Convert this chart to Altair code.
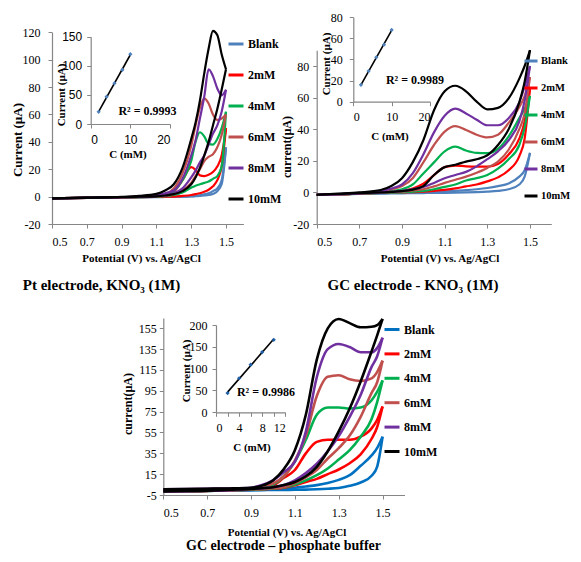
import altair as alt
import pandas as pd

SERIES = ["Blank", "2mM", "4mM", "6mM", "8mM", "10mM"]
COLORS_KNO3 = ["#4F81BD", "#FF0000", "#00B050", "#C0504D", "#7030A0", "#000000"]
COLORS_PB = ["#0070C0", "#FF0000", "#00B050", "#C0504D", "#7030A0", "#000000"]
X_TICKS = [0.5, 0.7, 0.9, 1.1, 1.3, 1.5]

# ---------- Panel 1 : Pt electrode, KNO3 (1M) ----------
PT_E = [0.5, 0.7, 0.9, 1.0, 1.1, 1.15, 1.2, 1.25, 1.3, 1.325, 1.35, 1.375, 1.4, 1.425, 1.45, 1.475, 1.5]
PT_FWD = {
    "Blank": [-1.5, -1.0, -0.6, -0.5, -0.4, -0.3, -0.2, 0, 0.3, 0.6, 1.0, 1.6, 2.5, 4, 6, 12, 36],
    "2mM":   [-1.5, -1.0, -0.6, -0.4, 0, 0.8, 3.5, 12, 21.5, 19.5, 15.5, 15, 16, 18, 22, 30, 50],
    "4mM":   [-1.5, -1.0, -0.6, -0.4, 0.2, 1.2, 4, 12, 26, 40, 47, 44, 38.5, 38, 42, 50, 62],
    "6mM":   [-1.5, -1.0, -0.5, -0.2, 0.5, 1.8, 6, 17, 37, 52, 65, 71.5, 68, 60, 56, 57, 60],
    "8mM":   [-1.5, -0.9, -0.4, 0, 1, 2.5, 4.5, 13, 30, 41, 57, 73, 93, 88, 79, 74, 78],
    "10mM":  [-1.5, -0.8, -0.2, 0.5, 2, 4.5, 9, 21, 42, 54, 70, 90, 108, 121, 118, 104, 93],
}
PT_REV = {
    "Blank": [-1.2, -0.8, -0.5, -0.4, -0.3, -0.2, -0.1, 0, 0.1, 0.3, 0.5, 0.8, 1.2, 2, 4, 9, 36],
    "2mM":   [-1.2, -0.8, -0.5, -0.3, -0.2, -0.1, 0, 0.5, 1.2, 1.8, 2.5, 3.5, 5, 7.5, 12, 22, 50],
    "4mM":   [-1.2, -0.8, -0.5, -0.3, -0.1, 0.3, 1.2, 3, 6.5, 8, 9, 10, 11, 13, 15, 22, 62],
    "6mM":   [-1.2, -0.8, -0.5, -0.2, 0.2, 0.6, 1.8, 4.5, 10, 15, 20, 26, 29, 31, 36, 45, 60],
    "8mM":   [-1.2, -0.8, -0.4, -0.2, 0.3, 1, 2.5, 6, 14, 19, 25, 30, 38, 46, 52, 62, 78],
    "10mM":  [-1.2, -0.8, -0.4, -0.1, 0.2, 0.8, 1.8, 4, 9, 14, 21, 30, 40, 52, 64, 78, 93],
}

# ---------- Panel 2 : GC electrode - KNO3 (1M) ----------
GK_E = [0.5, 0.6, 0.7, 0.8, 0.85, 0.9, 0.95, 1.0, 1.05, 1.1, 1.15, 1.2, 1.25, 1.3, 1.35, 1.4, 1.45, 1.475, 1.5]
GK_FWD = {
    "Blank": [-1.5, -1.2, -1.0, -0.8, -0.7, -0.6, -0.5, -0.4, -0.3, -0.3, -0.2, 0, 0.2, 0.5, 1, 2, 5, 10, 25],
    "2mM":   [-1.5, -1.2, -0.8, 0, 0.5, 1, 2.5, 5.5, 11, 16, 17, 16.5, 16.3, 16.3, 18, 24, 34, 45, 66],
    "4mM":   [-1.5, -1.2, -0.8, 0.3, 1, 2, 5, 12, 19, 26, 29, 26.5, 25, 24.8, 27.5, 35.5, 47, 53, 61],
    "6mM":   [-1.5, -1.2, -0.6, 0.8, 2, 4, 9, 19, 30, 38.5, 42, 39.5, 36.5, 34.8, 36.5, 44, 54, 61, 73],
    "8mM":   [-1.5, -1.0, -0.3, 1, 2.5, 5, 12, 24, 38, 48.5, 53, 50, 46, 42.5, 42.5, 47, 57, 67, 80],
    "10mM":  [-1.5, -0.8, 0, 1.5, 4, 9, 19, 33, 52, 64, 67.5, 64, 57.5, 52.5, 53.5, 59.5, 72, 80, 90],
}
GK_REV = {
    "Blank": [-1.5, -1.2, -0.8, -0.4, -0.2, 0, 0.1, 0.2, 0.4, 0.6, 1, 1.4, 2, 2.8, 4, 5.7, 10, 14, 25],
    "2mM":   [-1.5, -1.2, -0.8, -0.3, 0, 0, 0.2, 0.5, 1, 1.6, 2.5, 3.8, 5, 7, 9.5, 14, 23, 34, 66],
    "4mM":   [-1.5, -1.2, -0.8, -0.3, 0, 0, 0.5, 1, 2, 3.5, 5, 7.5, 9, 11, 15, 21, 30, 41, 61],
    "6mM":   [-1.5, -1.2, -0.8, 0, 0.3, 0.5, 1.2, 2, 3.8, 6, 8, 10, 12.5, 15.5, 19.5, 27, 40, 50, 73],
    "8mM":   [-1.5, -1.2, -0.6, 0, 0.4, 1, 2, 3.5, 6, 9, 11, 13, 16.5, 21, 26, 33, 45, 58, 80],
    "10mM":  [-1.5, -1.0, -0.5, 0, 0.3, 0.8, 1.8, 4, 11, 16, 17.5, 19.5, 21, 23.5, 30, 40, 57, 70, 90],
}

# ---------- Panel 3 : GC electrode - phosphate buffer ----------
GP_E = [0.5, 0.6, 0.7, 0.8, 0.9, 0.95, 1.0, 1.05, 1.1, 1.15, 1.2, 1.25, 1.3, 1.35, 1.4, 1.45, 1.475, 1.5]
GP_FWD = {
    "Blank": [-1, -1, -0.8, -0.6, -0.4, -0.3, -0.2, -0.1, 0, 0.2, 0.5, 1, 1.8, 3.8, 7, 13.5, 22, 51],
    "2mM":   [-0.5, -0.3, 0, 0.2, 0.5, 1.5, 4, 11.5, 19, 35, 46, 48, 48, 48, 51, 59, 67, 80],
    "4mM":   [0, 0.2, 0.4, 0.6, 1, 2.5, 5, 13, 27, 48, 72, 79, 79, 78, 79, 86, 94, 105],
    "6mM":   [0.3, 0.5, 0.7, 1, 1.5, 3.5, 6, 13, 28, 52, 90, 108.5, 110, 106, 104.5, 107, 113, 124],
    "8mM":   [0.5, 0.7, 1, 1.3, 2, 4.5, 9, 17, 27, 56, 108, 135, 140, 137, 132, 132, 136, 146],
    "10mM":  [0.5, 0.7, 1, 1.3, 2, 4, 9, 20, 38, 72, 125, 155, 164, 160, 156, 156.5, 158, 164],
}
GP_REV = {
    "Blank": [-1.5, -1.3, -1.0, -0.7, -0.3, 0, 0.3, 0.8, 2, 3.2, 4.5, 6.5, 9.5, 14, 23, 33, 40, 51],
    "2mM":   [-1.5, -1.3, -1.0, -0.6, 0, 0.4, 1, 2, 4.3, 7.5, 10.5, 15, 19.5, 25.5, 34, 49, 60, 80],
    "4mM":   [-1.5, -1.3, -1.0, -0.5, 0.3, 0.6, 1.2, 2.5, 5, 9, 14, 20.5, 29, 38, 51, 68, 84, 105],
    "6mM":   [-1.5, -1.3, -1.0, -0.4, 0.5, 0.9, 1.5, 2.8, 6.5, 12, 19, 30, 40, 52, 70, 93, 103, 124],
    "8mM":   [-1.5, -1.3, -0.9, -0.3, 1, 1.5, 2.5, 4.6, 9, 16, 25, 37, 51.5, 70, 91, 118, 128, 146],
    "10mM":  [-1.5, -1.2, -0.8, 0, 0.8, 1.5, 2.5, 4.5, 7.5, 13, 22, 37, 56, 78, 104, 133, 148, 164],
}

# ---------- Insets: peak current vs concentration ----------
INSET_C = [2, 4, 6, 8, 10]
PT_PEAK = [21, 47, 70, 93, 120]
GK_PEAK = [16, 29, 42, 54, 68]
GP_PEAK = [44, 78, 109, 138, 166]
R2_TEXT = ["R\u00b2 = 0.9993", "R\u00b2 = 0.9989", "R\u00b2 = 0.9986"]

W, H = 565, 546
SERIF = "Liberation Serif, Times New Roman, serif"
NARROW = "Liberation Sans Narrow, Arial Narrow, Liberation Sans, sans-serif"
AXC = "#868686"
PLAIN = "'' + datum.value"


def cv_frame(E, fwd, rev):
    rows = []
    for s in SERIES:
        for e, i in zip(E, fwd[s]):
            rows.append({"E": e, "I": i, "series": s, "scan": "f"})
        for e, i in zip(E, rev[s]):
            rows.append({"E": e, "I": i, "series": s, "scan": "r"})
    return pd.DataFrame(rows)


def axis_common(**kw):
    base = dict(grid=False, domainColor=AXC, tickColor=AXC, labelColor="black",
                labelFont=SERIF, labelFontSize=12, tickSize=4, title=None, domainWidth=1.2)
    base.update(kw)
    return alt.Axis(**base)


def main_panel(df, xr, yr, ydom, yticks, colors, lx, ly, rowpad, sw, ylabpad, thin_red=False,
               lfont=12, lsym=225, loff=3):
    x = alt.X("E:Q", scale=alt.Scale(domain=[0.5, 1.6], range=xr, nice=False, zero=False),
              axis=axis_common(orient="bottom", offset=yr[0] - H, values=X_TICKS, format=".1f",
                               labelPadding=8))
    y = alt.Y("I:Q", scale=alt.Scale(domain=ydom, range=yr, nice=False, zero=False),
              axis=axis_common(orient="left", offset=-xr[0], values=yticks, labelPadding=ylabpad,
                               labelExpr=PLAIN))
    color = alt.Color("series:N", scale=alt.Scale(domain=SERIES, range=colors),
                      legend=alt.Legend(orient="none", legendX=lx, legendY=ly, title=None,
                                        symbolType="stroke", symbolStrokeWidth=3, symbolSize=lsym,
                                        labelFont=SERIF, labelFontWeight="bold", labelFontSize=lfont,
                                        labelColor="black", rowPadding=rowpad, padding=0,
                                        labelOffset=loff))
    enc = dict(x=x, y=y, color=color, detail="scan:N")
    if thin_red:
        enc["strokeWidth"] = alt.condition(alt.datum.series == "2mM", alt.value(1.2), alt.value(sw))
    return alt.Chart(df).mark_line(interpolate="monotone", strokeWidth=sw).encode(**enc)


def inset(c, peak, xr, yr, xdom, xticks, ydom, yticks, font, ylabpad, ptcolor):
    df = pd.DataFrame({"C": c, "I": peak})
    xs = alt.Scale(domain=xdom, range=xr, nice=False, zero=False)
    ys = alt.Scale(domain=ydom, range=yr, nice=False, zero=False)
    pts = alt.Chart(df).mark_point(shape="diamond", filled=True, size=18, color=ptcolor, opacity=1).encode(
        x=alt.X("C:Q", scale=xs, axis=axis_common(orient="bottom", offset=yr[0] - H, values=xticks,
                                                  labelFont=font, labelPadding=6)),
        y=alt.Y("I:Q", scale=ys, axis=axis_common(orient="left", offset=-xr[0], values=yticks,
                                                  labelFont=font, labelPadding=ylabpad)),
    )
    fit = alt.Chart(df).transform_regression("C", "I").mark_line(color="black", strokeWidth=1.6).encode(
        x=alt.X("C:Q", scale=xs, axis=None),
        y=alt.Y("I:Q", scale=ys, axis=None),
    )
    return [fit, pts]


def label(t, x, y, size, angle=0, weight="bold"):
    return alt.Chart(pd.DataFrame({"t": [t]})).mark_text(
        font=SERIF, fontSize=size, fontWeight=weight, angle=angle, align="center",
        baseline="middle", color="black").encode(x=alt.value(x), y=alt.value(y), text="t:N")


layers = []
# Panel 1
layers.append(main_panel(cv_frame(PT_E, PT_FWD, PT_REV), [44, 235.4], [216, 24.3], [-20, 120],
                         list(range(-20, 121, 20)), COLORS_KNO3, 219, 27, 16, 2.2, 8))
layers += inset(INSET_C, PT_PEAK, [82.7, 162], [116, 28.7], [0, 20], [0, 10, 20], [0, 150],
                [0, 50, 100, 150], NARROW, 5, "#4F81BD")
# Panel 2
layers.append(main_panel(cv_frame(GK_E, GK_FWD, GK_REV), [308.7, 543.3], [216, 42.2], [-20, 90],
                         list(range(-20, 81, 20)), COLORS_KNO3, 515, 45, 13, 2.2, 4, thin_red=True,
                         lfont=10.5, lsym=169, loff=2))
layers += inset(INSET_C, GK_PEAK, [345.3, 422], [93.7, 9.2], [0, 20], [0, 10, 20], [0, 80],
                [0, 20, 40, 60, 80], SERIF, 7, "#4F81BD")
# Panel 3
layers.append(main_panel(cv_frame(GP_E, GP_FWD, GP_REV), [155.3, 396.5], [487, 309.9], [-5, 165],
                         list(range(-5, 156, 20)), COLORS_PB, 375, 312.5, 9.4, 2.6, 3))
layers += inset(INSET_C, GP_PEAK, [208, 277.3], [404.3, 317], [0, 12], [0, 2, 4, 6, 8, 10, 12], [0, 200],
                [0, 50, 100, 150, 200], SERIF, 5, "#1F5FA8")

# Texts
layers += [
    label("Current (\u00b5A)", 9.5, 132, 13, angle=270),
    label("Potential (V) vs. Ag/AgCl", 133.5, 251, 11),
    label("Pt electrode, KNO\u2083 (1M)", 93.5, 277, 15),
    label("Current (\u00b5A)", 54, 87, 11, angle=270),
    label("C  (mM)", 120, 147, 11),
    label(R2_TEXT[0], 139.5, 102.7, 12),

    label("current(\u00b5A)", 279, 139, 12, angle=270),
    label("Potential (V) vs. Ag/AgCl", 432, 251, 11),
    label("GC electrode - KNO\u2083 (1M)", 405, 277, 15),
    label("Current (\u00b5A)", 319, 56, 11, angle=270),
    label("C  (mM)", 382, 129, 11),
    label(R2_TEXT[1], 407, 72, 12),

    label("current(\u00b5A)", 120, 396, 12, angle=270),
    label("Potential (V) vs. Ag/AgCl", 279, 525, 11),
    label("GC electrode \u2013 phosphate buffer", 275.5, 538, 14),
    label("Current (\u00b5A)", 179, 363, 11, angle=270),
    label("C  (mM)", 244, 440, 11),
    label(R2_TEXT[2], 258, 384, 12),
]

chart = alt.layer(*layers).resolve_scale(
    x="independent", y="independent", color="independent"
).properties(width=W, height=H, padding=0, autosize="none").configure_view(stroke=None)

chart.save("out.html", embed_options={"renderer": "svg", "actions": False})
